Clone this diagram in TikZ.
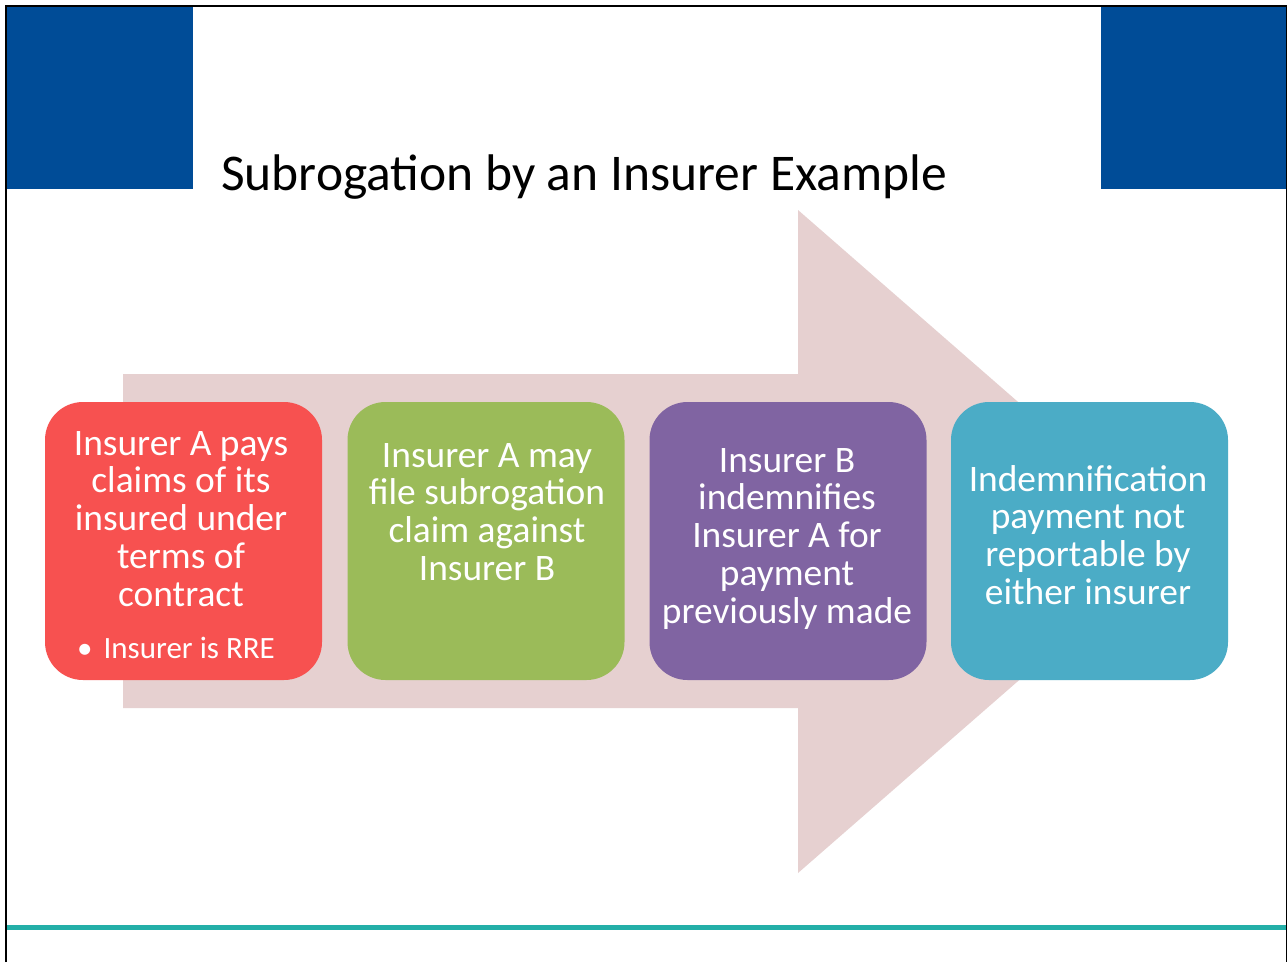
\documentclass[tikz,border=0pt]{standalone}
\usepackage{fontspec}
\setmainfont{Carlito}
\definecolor{hdrblue}{RGB}{0,76,151}
\definecolor{arrowpink}{RGB}{230,208,208}
\definecolor{boxred}{RGB}{247,81,80}
\definecolor{boxgreen}{RGB}{155,187,89}
\definecolor{boxpurple}{RGB}{128,100,162}
\definecolor{boxblue}{RGB}{75,172,198}
\definecolor{tealline}{RGB}{35,175,168}
\begin{document}
\begin{tikzpicture}[x=1pt,y=-1pt,
  stepbox/.style={draw=none,rounded corners=38pt,minimum width=277pt,minimum height=278pt,inner sep=0pt},
  boxtext/.style={text=white,align=center,inner sep=0pt,anchor=north,font=\fontsize{37.4}{37.7}\selectfont},
  titletext/.style={inner sep=0pt,anchor=base west,font=\fontsize{51.5}{60}\selectfont}]
\useasboundingbox (0,0) rectangle (1288,962);
\fill[white] (0,0) rectangle (1288,962);
% header blocks
\fill[hdrblue] (7,7) rectangle (193,189);
\fill[hdrblue] (1101,7) rectangle (1287,189);
% frame
\draw[black,line width=1.5pt] (6,962) -- (6,6) -- (1286.5,6) -- (1286.5,962);
% bottom line
\draw[tealline,line width=5pt] (7,927) -- (1286,927);
% title
\node[titletext] (title) at (221,190) {Subrogation by an Insurer Example};
% big arrow
\fill[arrowpink] (123,374) -- (798,374) -- (798,210) -- (1178,541.5) -- (798,873) -- (798,708) -- (123,708) -- cycle;
% boxes
\node[stepbox,fill=boxred] (b1) at (183.5,541) {};
\node[stepbox,fill=boxgreen] (b2) at (486,541) {};
\node[stepbox,fill=boxpurple] (b3) at (788,541) {};
\node[stepbox,fill=boxblue] (b4) at (1089.5,541) {};
% texts
\node[boxtext] (t1) at (181,425) {\rule{0pt}{30pt}Insurer A pays\\claims of its\\insured under\\terms of\\contract};
\node[text=white,inner sep=0pt,anchor=base west,font=\fontsize{31}{34}\selectfont] (t1b) at (77,658) {•\hspace{11pt}Insurer is RRE};
\node[boxtext] (t2) at (487,437) {\rule{0pt}{30pt}Insurer A may\\file subrogation\\claim against\\Insurer B};
\node[boxtext] (t3) at (787,442) {\rule{0pt}{30pt}Insurer B\\indemnifies\\Insurer A for\\payment\\previously made};
\node[boxtext] (t4) at (1088,461) {\rule{0pt}{30pt}Indemnification\\payment not\\reportable by\\either insurer};
\end{tikzpicture}
\end{document}
